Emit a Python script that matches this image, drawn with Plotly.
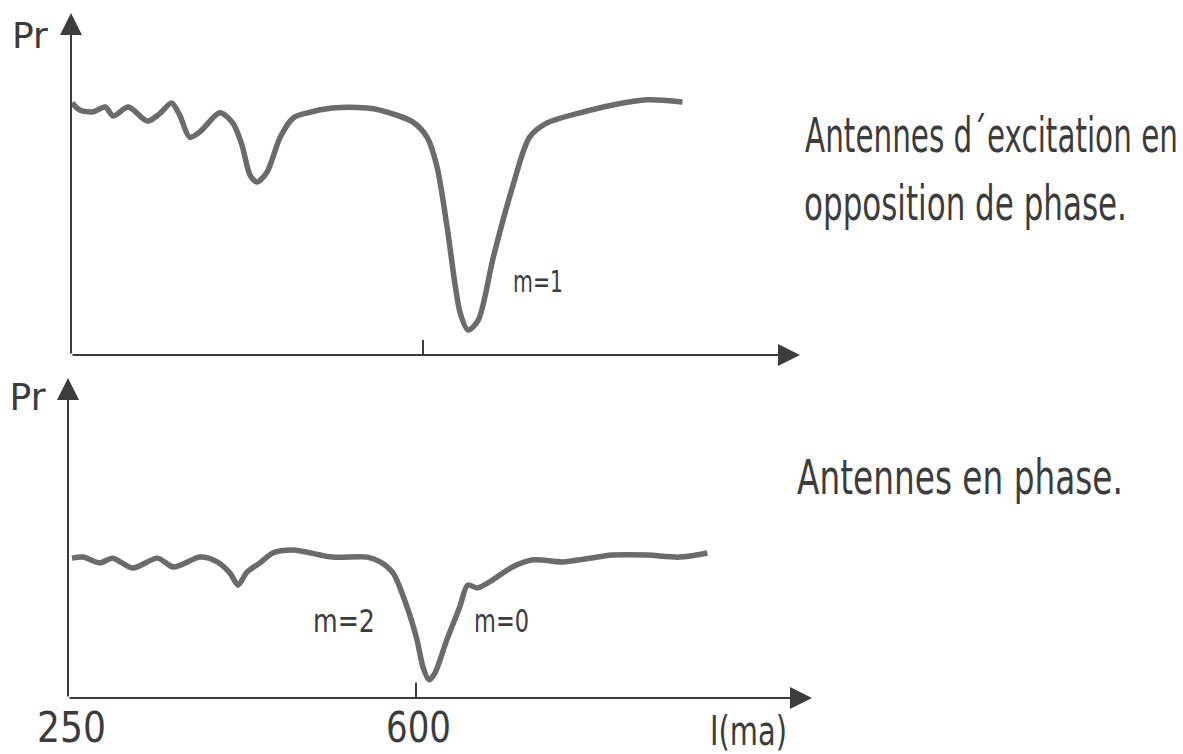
import json
import plotly.graph_objects as go

# Courant I (mA) et puissance réfléchie Pr (unités arbitraires)
# Antennes d'excitation en opposition de phase
I_opp = [251, 259, 272, 284, 292, 307, 326, 338, 350, 358, 368, 378, 398, 411,
         420, 428, 435, 445, 458, 471, 485, 510, 544, 557, 590, 604, 614, 624,
         637, 645, 655, 670, 689, 706, 723, 756, 789, 823, 858]
Pr_opp = [7.37, 7.16, 7.11, 7.25, 6.99, 7.25, 6.84, 7.05, 7.37, 7.02, 6.37, 6.52,
          7.08, 6.78, 6.14, 5.26, 5.06, 5.35, 6.37, 6.93, 7.08, 7.22, 7.22, 7.16,
          6.81, 6.37, 5.50, 3.74, 1.23, 0.73, 1.02, 2.87, 4.91, 6.37, 6.78, 7.08,
          7.31, 7.46, 7.40]

# Antennes en phase
I_ph = [254, 265, 282, 295, 315, 340, 356, 383, 400, 413, 421, 430, 443, 456,
        476, 516, 551, 564, 577, 591, 601, 607, 613, 619, 631, 644, 652, 662,
        677, 697, 718, 748, 798, 832, 865, 893]
Pr_ph = [4.09, 4.12, 3.95, 4.09, 3.80, 4.09, 3.83, 4.12, 3.98, 3.65, 3.30, 3.68,
         3.95, 4.24, 4.33, 4.12, 4.12, 3.98, 3.65, 2.66, 1.70, 0.91, 0.53, 0.73,
         1.70, 2.66, 3.30, 3.22, 3.45, 3.83, 4.04, 3.98, 4.18, 4.18, 4.12, 4.24]

tick_values = [250, 600]
tick_labels = ["250", "600"]
x_title = "I(ma)"
y_title = "Pr"
caption_opp = ["Antennes d´excitation en", "opposition de phase."]
caption_ph = "Antennes en phase."
mode_opp = [("m=1", 714, 2.16)]
mode_ph = [("m=2", 528, 2.25), ("m=0", 686, 2.25)]

W, H = 1183, 754
INK = "#3c3c3c"
CURVE = "#6b6b6b"
FONT = "DejaVu Sans"

fig = go.Figure()
fig.add_trace(go.Scatter(x=I_opp, y=Pr_opp, mode="lines", xaxis="x", yaxis="y",
                         line=dict(color=CURVE, width=5.5, shape="spline", smoothing=0.8),
                         hoverinfo="skip"))
fig.add_trace(go.Scatter(x=I_ph, y=Pr_ph, mode="lines", xaxis="x2", yaxis="y2",
                         line=dict(color=CURVE, width=5.5, shape="spline", smoothing=0.8),
                         hoverinfo="skip"))

x1_range = [250, 974.9]
y1_range = [0, 10]
x2_range = [250, 998.3]
y2_range = [0, 9.357]

hidden = dict(visible=False, fixedrange=True)
fig.update_layout(
    width=W, height=H,
    margin=dict(l=0, r=0, t=0, b=0),
    paper_bgcolor="white", plot_bgcolor="white",
    showlegend=False,
    xaxis=dict(domain=[71 / W, 800 / W], range=x1_range, anchor="y", **hidden),
    yaxis=dict(domain=[1 - 355 / H, 1 - 13 / H], range=y1_range, anchor="x", **hidden),
    xaxis2=dict(domain=[68 / W, 812 / W], range=x2_range, anchor="y2", **hidden),
    yaxis2=dict(domain=[1 - 698 / H, 1 - 378 / H], range=y2_range, anchor="x2", **hidden),
)

annotations = []


def axis_arrow(xref, yref, x0, y0, x1, y1):
    annotations.append(dict(
        x=x1, y=y1, ax=x0, ay=y0, xref=xref, yref=yref, axref=xref, ayref=yref,
        text="", showarrow=True, arrowhead=2, arrowsize=2.2, arrowwidth=2,
        arrowcolor=INK, standoff=0, startstandoff=0))


# axes fléchés
axis_arrow("x", "y", x1_range[0], 0, x1_range[1], 0)
axis_arrow("x", "y", x1_range[0], 0, x1_range[0], y1_range[1])
axis_arrow("x2", "y2", x2_range[0], 0, x2_range[1], 0)
axis_arrow("x2", "y2", x2_range[0], 0, x2_range[0], y2_range[1])

# graduation 600
fig.add_shape(type="line", xref="x", yref="y", x0=600, x1=600, y0=0, y1=0.44,
              line=dict(color=INK, width=2))
fig.add_shape(type="line", xref="x2", yref="y2", x0=600, x1=600, y0=0, y1=0.45,
              line=dict(color=INK, width=2))

# largeur (px) du lettrage étroit, appliquée après le rendu
lettering_width = {}


def label(text, x, y, xref, yref, size, width, xshift=0):
    lettering_width[text] = width
    annotations.append(dict(text=text, x=x, y=y, xref=xref, yref=yref,
                            showarrow=False, xanchor="center", yanchor="middle",
                            width=width + 8, align="center", xshift=xshift,
                            font=dict(family=FONT, size=size, color=INK)))


for v, t, w in zip(tick_values, tick_labels, [69, 65]):
    label(t, v, 1 - 727 / H, "x2", "paper", 43, w, xshift=3)
label(x_title, 934, 1 - 731 / H, "x2", "paper", 40, 77)
label(y_title, 30 / W, 1 - 35 / H, "paper", "paper", 36, 36)
label(y_title, 28 / W, 1 - 397 / H, "paper", "paper", 37, 36)

for (t, x, y), w in zip(mode_opp, [50]):
    label(t, x, y, "x", "y", 30, w)
for (t, x, y), w in zip(mode_ph, [62, 55]):
    label(t, x, y, "x2", "y2", 32, w)

label(caption_opp[0], 991 / W, 1 - 135 / H, "paper", "paper", 48, 373)
label(caption_opp[1], 966 / W, 1 - 203 / H, "paper", "paper", 48, 323)
label(caption_ph, 960 / W, 1 - 477 / H, "paper", "paper", 48, 326)

fig.update_layout(annotations=annotations)

# lettrage étroit : police réduite à la largeur voulue, puis étirée
# verticalement autour de la ligne de base pour garder la hauteur
narrow_js = """
var widths = %s;
var gd = document.getElementById('{plot_id}');
gd.querySelectorAll('text.annotation-text').forEach(function (t) {
  var w = widths[t.textContent];
  if (!w) return;
  var fs = parseFloat(t.style.fontSize);
  var w0 = t.getComputedTextLength();
  var k = w / w0;
  if (k >= 1) return;
  t.style.fontSize = (fs * k) + 'px';
  var y = parseFloat(t.getAttribute('y')) || 0;
  t.setAttribute('transform',
    'translate(0,' + y + ') scale(1,' + (1 / k) + ') translate(0,' + (-y) + ')');
});
""" % json.dumps(lettering_width)

fig.write_html("out.html", config={"displayModeBar": False, "staticPlot": True},
               post_script=narrow_js)
